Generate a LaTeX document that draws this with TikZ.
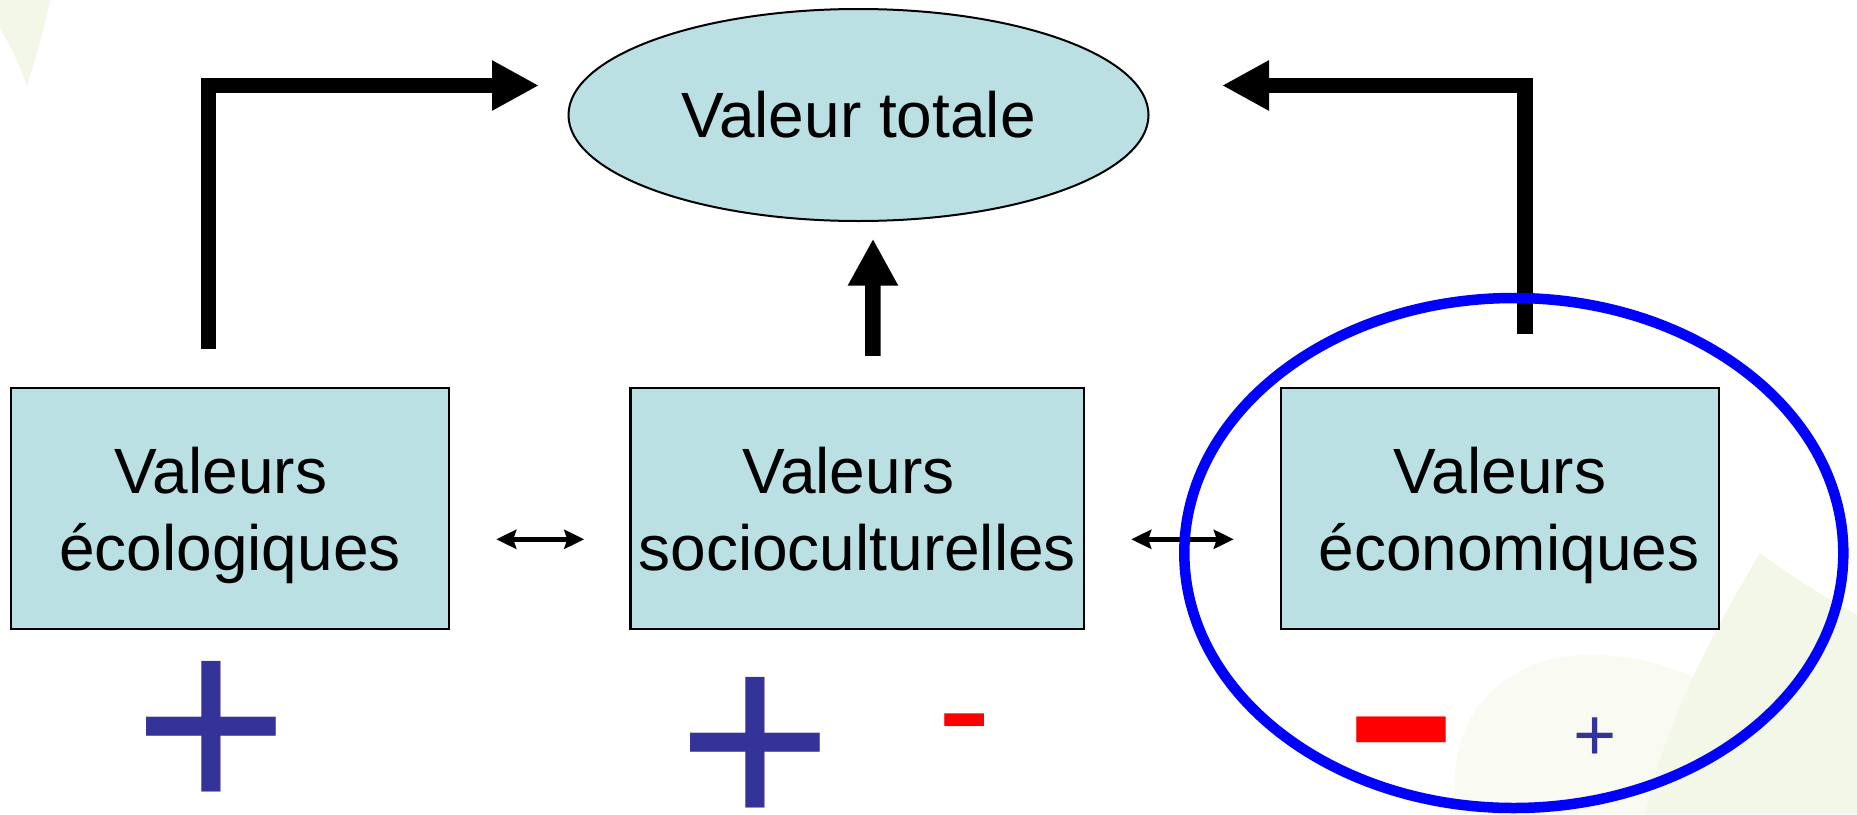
\documentclass[tikz,border=0pt]{standalone}
\usepackage{fontspec}
\setmainfont{Liberation Sans}
\usetikzlibrary{arrows.meta,shapes.geometric,calc}
\definecolor{boxfill}{RGB}{187,224,227}
\definecolor{plusblue}{RGB}{51,51,153}
\definecolor{ringblue}{RGB}{0,0,255}
\definecolor{signred}{RGB}{255,0,0}
\definecolor{leafA}{RGB}{243,247,231}
\definecolor{leafB}{RGB}{249,251,243}
\newcommand\trsp{\hbox to 0.278em{}}
\begin{document}
\begin{tikzpicture}[x=1pt,y=-1pt,
  valbox/.style={draw=black, line width=2.5pt, fill=boxfill, minimum height=241pt,
    inner sep=0pt, align=center, font=\fontsize{64pt}{76.7pt}\selectfont, text depth=0pt},
  totell/.style={ellipse, draw=black, line width=2pt, fill=boxfill, minimum width=580pt,
    minimum height=212pt, inner sep=0pt, font=\fontsize{64pt}{76.7pt}\selectfont},
  bigarr/.style={line width=15.5pt, line join=miter, -{Triangle[length=47pt,width=47pt]}},
  dblarr/.style={line width=5pt, {Stealth[length=20pt,width=19pt,inset=3pt]}-{Stealth[length=20pt,width=19pt,inset=3pt]}},
  ring/.style={draw=ringblue, line width=10.5pt},
  signtxt/.style={anchor=base, inner sep=0pt}
]
\useasboundingbox (0,0) rectangle (1857,814);
\fill[white] (0,0) rectangle (1857,814);
% faint background leaves
\fill[leafA] (0,0) -- (50,0) .. controls (44,30) and (35,60) .. (27,86) .. controls (18,60) and (8,42) .. (0,28) -- cycle;
\fill[leafB] (1455,814) .. controls (1450,740) and (1470,690) .. (1540,662) .. controls (1600,645) and (1680,660) .. (1730,700) -- (1730,814) -- cycle;
\fill[leafA] (1760,553) .. controls (1720,620) and (1665,720) .. (1645,814) -- (1857,814) -- (1857,615) .. controls (1820,595) and (1790,575) .. (1760,553) -- cycle;

% nodes
\node[totell] (tot) at (858.5,115) {Valeur totale};
\node[valbox, minimum width=438pt] (b1) at (230,508.7) {Valeurs\trsp\\écologiques};
\node[valbox, minimum width=453.5pt] (b2) at (857.25,508.7) {Valeurs\trsp\\socioculturelles};
\node[valbox, minimum width=438pt] (b3) at (1500,508.7) {Valeurs\\\trsp économiques};

% connectors
\draw[bigarr] ($(b1.north)+(-21.5,-38)$) |- ($(tot.west)+(-28.5,-29.5)$);
\draw[bigarr] ($(b3.north)+(25,-53)$) |- ($(tot.east)+(72.5,-29.5)$);
\draw[bigarr] ($(b2.north)+(15.7,-31)$) -- ($(tot.south)+(14.5,16.7)$);
\draw[dblarr] ($(b1.east)+(46,30.6)$) -- ($(b2.west)+(-45,30.6)$);
\draw[dblarr] ($(b2.east)+(46,30.6)$) -- ($(b3.west)+(-46,30.6)$);

% blue ring
\draw[ring] (1513.8,553) ellipse [x radius=329.5, y radius=255];

% signs
\node[signtxt, text=plusblue, font=\fontsize{267pt}{267pt}\selectfont] (p1) at (211,815.9) {+};
\node[signtxt, text=plusblue, font=\fontsize{267pt}{267pt}\selectfont] (p2) at (755.5,831.3) {+};
\node[signtxt, text=signred, font=\fontsize{163pt}{163pt}\selectfont] (m1) at (964.3,763.4) {-};
\node[signtxt, text=signred, font=\fontsize{330pt}{330pt}\selectfont] (m2) at (1401.6,817) {\scalebox{1.11}[1]{-}};
\node[signtxt, text=plusblue, font=\fontsize{74pt}{74pt}\selectfont] (p3) at (1595.5,760.7) {+};
\end{tikzpicture}
\end{document}
